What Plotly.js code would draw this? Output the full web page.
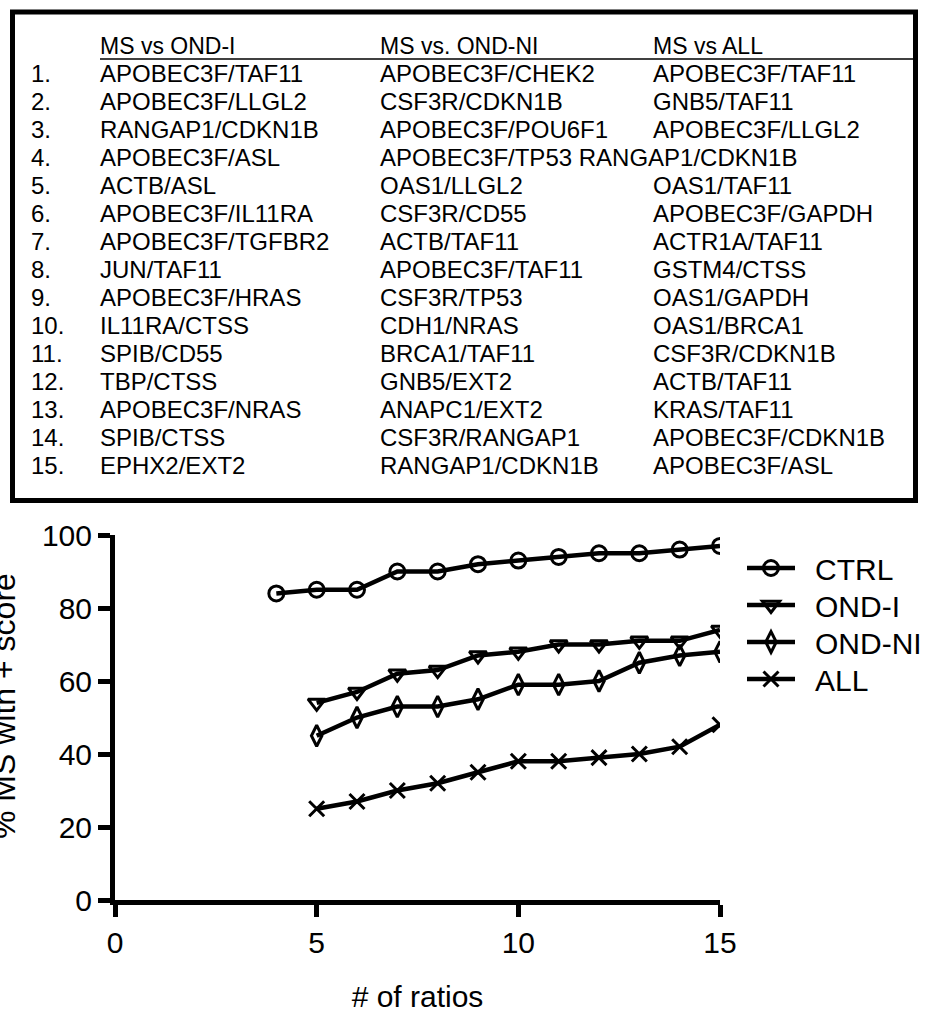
<!DOCTYPE html>
<html><head><meta charset="utf-8">
<script src="https://cdn.plot.ly/plotly-3.0.1.min.js"></script>
<style>html,body{margin:0;padding:0;background:#fff}</style>
</head><body><div id="chart" style="width:941px;height:1013px"></div>
<script>
// ---- chart data ----
const ctrlX  = [4, 5, 6, 7, 8, 9, 10, 11, 12, 13, 14, 15];
const ctrlY  = [84, 85, 85, 90, 90, 92, 93, 94, 95, 95, 96, 97];
const ondIX  = [5, 6, 7, 8, 9, 10, 11, 12, 13, 14, 15];
const ondIY  = [54, 57, 62, 63, 67, 68, 70, 70, 71, 71, 74];
const ondNIX = [5, 6, 7, 8, 9, 10, 11, 12, 13, 14, 15];
const ondNIY = [45, 50, 53, 53, 55, 59, 59, 60, 65, 67, 68];
const allX   = [5, 6, 7, 8, 9, 10, 11, 12, 13, 14, 15];
const allY   = [25, 27, 30, 32, 35, 38, 38, 39, 40, 42, 48];
const seriesNames = ["CTRL", "OND-I", "OND-NI", "ALL"];
const xTickVals = [0, 5, 10, 15];
const yTickVals = [0, 20, 40, 60, 80, 100];

// ---- table data ----
const tableHeaders = ["MS vs OND-I", "MS vs. OND-NI", "MS vs ALL"];
const rankLabels = ["1.","2.","3.","4.","5.","6.","7.","8.","9.","10.","11.","12.","13.","14.","15."];
const colOndI = ["APOBEC3F/TAF11","APOBEC3F/LLGL2","RANGAP1/CDKN1B","APOBEC3F/ASL","ACTB/ASL",
  "APOBEC3F/IL11RA","APOBEC3F/TGFBR2","JUN/TAF11","APOBEC3F/HRAS","IL11RA/CTSS",
  "SPIB/CD55","TBP/CTSS","APOBEC3F/NRAS","SPIB/CTSS","EPHX2/EXT2"];
const colOndNI = ["APOBEC3F/CHEK2","CSF3R/CDKN1B","APOBEC3F/POU6F1","APOBEC3F/TP53","OAS1/LLGL2",
  "CSF3R/CD55","ACTB/TAF11","APOBEC3F/TAF11","CSF3R/TP53","CDH1/NRAS",
  "BRCA1/TAF11","GNB5/EXT2","ANAPC1/EXT2","CSF3R/RANGAP1","RANGAP1/CDKN1B"];
const colAll = ["APOBEC3F/TAF11","GNB5/TAF11","APOBEC3F/LLGL2","RANGAP1/CDKN1B","OAS1/TAF11",
  "APOBEC3F/GAPDH","ACTR1A/TAF11","GSTM4/CTSS","OAS1/GAPDH","OAS1/BRCA1",
  "CSF3R/CDKN1B","ACTB/TAF11","KRAS/TAF11","APOBEC3F/CDKN1B","APOBEC3F/ASL"];
const runOnRow = 3; // in the source, row 4's third entry runs on after the second

// ---- layout helpers (pixel -> paper) ----
const W = 941, H = 1013;
const px = v => v / W;
const py = v => 1 - v / H;
const FONT = '"Liberation Sans", Arial, sans-serif';

const lineStyle = {color: '#000', width: 4.5};
function mk(symbol, size) {
  return {symbol: symbol, size: size, color: '#000', line: {color: '#000', width: 3}};
}
const legendIds = ['legend', 'legend2', 'legend3', 'legend4'];
const symbols = ['circle-open', 'triangle-down-open', 'diamond-tall-open', 'x-thin-open'];
const sizes = [15, 15, 15, 15];
const xs = [ctrlX, ondIX, ondNIX, allX];
const ys = [ctrlY, ondIY, ondNIY, allY];
const traces = seriesNames.map((n, i) => ({
  x: xs[i], y: ys[i], name: '\u2002' + n, legend: legendIds[i],
  mode: 'lines+markers', line: lineStyle, marker: mk(symbols[i], sizes[i])
}));

// ---- table annotations & shapes ----
const annotations = [];
const colX = [98, 378, 651];
const headerY = 46, row0Y = 73.5, rowStep = 28.0;
const tfont = {family: FONT, size: 24, color: '#000'};
tableHeaders.forEach((h, i) => annotations.push({
  xref: 'paper', yref: 'paper', x: px(colX[i]), y: py(headerY), text: h,
  showarrow: false, xanchor: 'left', yanchor: 'middle', font: {family: FONT, size: 23, color: '#000'}
}));
const cols = [colOndI, colOndNI, colAll];
rankLabels.forEach((r, i) => {
  const yy = py(row0Y + rowStep * i);
  annotations.push({xref: 'paper', yref: 'paper', x: px(29), y: yy, text: r, showarrow: false,
    xanchor: 'left', yanchor: 'middle', font: tfont});
  cols.forEach((c, j) => {
    if (i === runOnRow && j === 2) return;
    let t = c[i];
    if (i === runOnRow && j === 1) t = colOndNI[i] + ' ' + colAll[i];
    annotations.push({xref: 'paper', yref: 'paper', x: px(colX[j]), y: yy, text: t, showarrow: false,
      xanchor: 'left', yanchor: 'middle', font: tfont});
  });
});
// y axis title (partly cut off at the left edge as in the source)
annotations.push({xref: 'paper', yref: 'paper', x: px(4), y: py(706), text: '% MS with + score',
  textangle: -90, showarrow: false, xanchor: 'center', yanchor: 'middle',
  font: {family: FONT, size: 32, color: '#000'}});

const shapes = [
  {type: 'rect', xref: 'paper', yref: 'paper', x0: px(12.5), x1: px(915.5), y0: py(500.5), y1: py(12),
   line: {color: '#000', width: 5}, fillcolor: 'rgba(0,0,0,0)'},
  {type: 'line', xref: 'paper', yref: 'paper', x0: px(100), x1: px(913), y0: py(59), y1: py(59),
   line: {color: '#000', width: 1.5}}
];

const axisCommon = {
  showline: true, linecolor: '#000', linewidth: 5, showgrid: false, zeroline: false,
  ticks: 'outside', ticklen: 12, tickwidth: 5, tickcolor: '#000',
  tickfont: {family: FONT, size: 30, color: '#000'}, tickmode: 'array', fixedrange: true
};

const legendTops = [542, 579, 616, 653];
const layout = {
  width: W, height: H, margin: {l: 0, r: 0, t: 0, b: 0},
  paper_bgcolor: '#fff', plot_bgcolor: '#fff',
  showlegend: true,
  xaxis: Object.assign({}, axisCommon, {
    domain: [px(115), px(720)], range: [0, 15], tickvals: xTickVals,
    title: {text: '# of ratios', font: {family: FONT, size: 30, color: '#000'}, standoff: 30}
  }),
  yaxis: Object.assign({}, axisCommon, {
    domain: [py(900), py(535)], range: [0, 100], tickvals: yTickVals
  }),
  annotations: annotations,
  shapes: shapes
};
legendIds.forEach((id, i) => {
  layout[id] = {x: px(742), y: py(legendTops[i]), xanchor: 'left', yanchor: 'top',
    font: {family: FONT, size: 30, color: '#000'}, itemwidth: 48, bgcolor: 'rgba(0,0,0,0)'};
});

Plotly.newPlot('chart', traces, layout, {displayModeBar: false, staticPlot: true});
</script>
</body></html>
